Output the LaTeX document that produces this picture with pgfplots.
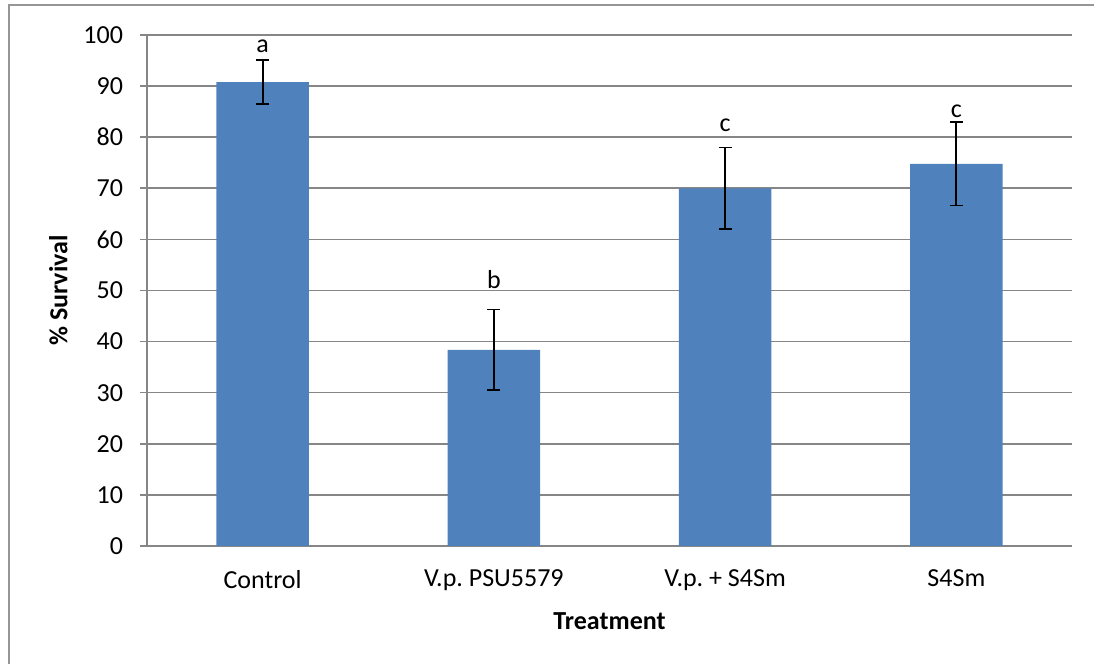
\documentclass[border=0pt]{standalone}
\usepackage{fontspec}
\setmainfont{Carlito}
\usepackage{pgfplots}
\pgfplotsset{compat=1.18}
\definecolor{barblue}{RGB}{79,129,189}
\definecolor{gridgray}{RGB}{134,134,134}
\definecolor{framegray}{RGB}{150,150,150}
\frenchspacing

\pgfplotstableread{
x  y     err
0  90.8  4.35
1  38.4  7.9
2  70.0  8.0
3  74.8  8.15
}\survival

\begin{document}
\fontsize{13}{15}\selectfont
\begin{tikzpicture}
\begin{axis}[
    name=ax,
    scale only axis,
    width=462.5pt, height=255.5pt,
    xmin=-0.5, xmax=3.5,
    ymin=0, ymax=100,
    ytick={0,10,...,100},
    xtick=data,
    xticklabels={Control, V.p.\ PSU5579, V.p.\ + S4Sm, S4Sm},
    x tick style={draw=none},
    y tick style={gridgray, line width=0.8pt},
    tick align=outside,
    major tick length=3.5pt,
    ymajorgrids,
    grid style={gridgray, line width=0.8pt},
    axis x line*=bottom,
    axis y line*=left,
    axis line style={gridgray, line width=0.8pt, -},
    /pgf/number format/assume math mode=true,
    ticklabel style={font=\fontsize{13}{15}\selectfont},
    yticklabel style={xshift=-4pt},
    xticklabel style={yshift=-4pt},
    xlabel={\bfseries Treatment},
    ylabel={\bfseries \% Survival},
    xlabel style={font=\fontsize{13}{15}\selectfont, yshift=-2pt},
    ylabel style={font=\fontsize{13}{15}\selectfont, yshift=-1pt},
    clip=false,
]
\addplot[ybar, bar width=0.4, fill=barblue, draw=none,
    error bars/.cd, y dir=both, y explicit,
    error bar style={black, line width=0.9pt},
    error mark options={rotate=90, mark size=3.2pt, line width=0.9pt}]
    table[x=x, y=y, y error=err] {\survival};
\node[font=\fontsize{13}{15}\selectfont] at (axis cs:0,97.7) {a};
\node[font=\fontsize{13}{15}\selectfont] at (axis cs:1,52.1) {b};
\node[font=\fontsize{13}{15}\selectfont] at (axis cs:2,82.4) {c};
\node[font=\fontsize{13}{15}\selectfont] at (axis cs:3,85.1) {c};
\end{axis}
\useasboundingbox ([xshift=-73.5pt,yshift=-59pt]ax.south west) rectangle ([xshift=11pt,yshift=17.5pt]ax.north east);
\draw[framegray, line width=0.7pt]
    ([xshift=-69pt,yshift=-60pt]ax.south west) -- ([xshift=-69pt,yshift=15pt]ax.north west) -- ([xshift=12pt,yshift=15pt]ax.north east);
\end{tikzpicture}
\end{document}
